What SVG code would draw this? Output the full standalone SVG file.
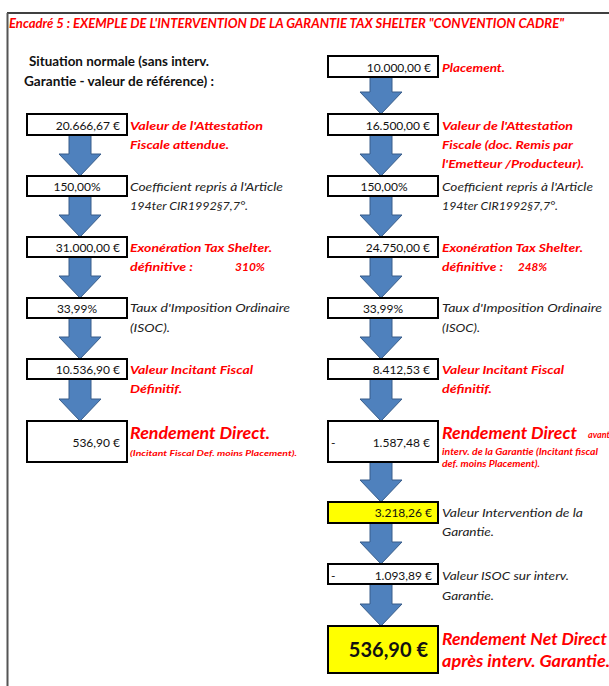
<svg xmlns="http://www.w3.org/2000/svg" width="609" height="686" viewBox="0 0 609 686">
<style>
text{font-family:Lato,"Liberation Sans",sans-serif;font-size:12px;fill:#111}
.red{fill:#FF0000;font-weight:bold;font-style:italic}
.it{font-style:italic;fill:#222}
.v{text-anchor:end}
.c{text-anchor:middle}
.box{fill:#fff;stroke:#000;stroke-width:2}
.yel{fill:#FFFF00;stroke:#000;stroke-width:2}
.big{font-size:17px}
.sm{font-size:8px}
.hd{font-weight:bold;font-size:12.5px}
.arr{fill:#4F81BD;stroke:#385D8A;stroke-width:1}
</style>
<rect x="0" y="0" width="609" height="686" fill="#fff"/>
<line x1="7" y1="13" x2="609" y2="13" stroke="#000" stroke-width="1.5"/>
<line x1="7.5" y1="13" x2="7.5" y2="686" stroke="#555" stroke-width="2"/>
<text x="9" y="28" class="red" style="font-size:13.5px" textLength="555" lengthAdjust="spacingAndGlyphs">Encadré 5 : EXEMPLE DE L'INTERVENTION DE LA GARANTIE TAX SHELTER "CONVENTION CADRE"</text>
<text x="29" y="66" class="hd" textLength="180" lengthAdjust="spacingAndGlyphs">Situation normale (sans interv.</text>
<text x="24" y="86" class="hd" textLength="190" lengthAdjust="spacingAndGlyphs">Garantie - valeur de référence) :</text>
<g id="connectors">
<path class="arr" d="M69,135H91V154H101L80,176L59,154H69Z"/>
<path class="arr" d="M69,196H91V215H101L80,237L59,215H69Z"/>
<path class="arr" d="M69,257H91V276H101L80,298L59,276H69Z"/>
<path class="arr" d="M69,318H91V337H101L80,359L59,337H69Z"/>
<path class="arr" d="M69,379H91V399H101L80,421L59,399H69Z"/>
<path class="arr" d="M370,77H392V92H402L381,114L360,92H370Z"/>
<path class="arr" d="M370,135H392V154H402L381,176L360,154H370Z"/>
<path class="arr" d="M370,196H392V215H402L381,237L360,215H370Z"/>
<path class="arr" d="M370,257H392V276H402L381,298L360,276H370Z"/>
<path class="arr" d="M370,318H392V337H402L381,359L360,337H370Z"/>
<path class="arr" d="M370,379H392V399H402L381,421L360,399H370Z"/>
<path class="arr" d="M370,462H392V480H402L381,502L360,480H370Z"/>
<path class="arr" d="M370,523H392V542H402L381,564L360,542H370Z"/>
<path class="arr" d="M370,584H392V604H402L381,626L360,604H370Z"/>
</g>
<g id="l1"><rect class="box" x="27" y="114" width="100" height="21"/><text x="120" y="130" class="v">20.666,67 €</text>
<text x="130" y="130" class="red" textLength="133" lengthAdjust="spacingAndGlyphs">Valeur de l'Attestation</text>
<text x="130" y="149" class="red" textLength="99" lengthAdjust="spacingAndGlyphs">Fiscale attendue.</text></g>
<g id="l2"><rect class="box" x="27" y="176" width="100" height="20"/><text x="77" y="191" class="c">150,00%</text>
<text x="130" y="191" class="it" textLength="153" lengthAdjust="spacingAndGlyphs">Coefficient repris à l'Article</text>
<text x="130" y="210" class="it" textLength="118" lengthAdjust="spacingAndGlyphs">194ter CIR1992§7,7°.</text></g>
<g id="l3"><rect class="box" x="27" y="237" width="100" height="20"/><text x="120" y="252" class="v">31.000,00 €</text>
<text x="130" y="252" class="red" textLength="142" lengthAdjust="spacingAndGlyphs">Exonération Tax Shelter.</text>
<text x="130" y="271" class="red" textLength="63" lengthAdjust="spacingAndGlyphs">définitive :</text>
<text x="235" y="271" class="red" textLength="30" lengthAdjust="spacingAndGlyphs">310%</text></g>
<g id="l4"><rect class="box" x="27" y="298" width="100" height="20"/><text x="77" y="313" class="c">33,99%</text>
<text x="130" y="312" class="it" textLength="160" lengthAdjust="spacingAndGlyphs">Taux d'Imposition Ordinaire</text>
<text x="130" y="332" class="it" textLength="40" lengthAdjust="spacingAndGlyphs">(ISOC).</text></g>
<g id="l5"><rect class="box" x="27" y="359" width="100" height="20"/><text x="120" y="374" class="v">10.536,90 €</text>
<text x="130" y="374" class="red" textLength="123" lengthAdjust="spacingAndGlyphs">Valeur Incitant Fiscal</text>
<text x="130" y="393" class="red" textLength="52" lengthAdjust="spacingAndGlyphs">Définitif.</text></g>
<g id="l6"><rect class="box" x="27" y="421" width="100" height="41"/><text x="120" y="447" class="v">536,90 €</text>
<text x="130" y="439" class="red big" textLength="140" lengthAdjust="spacingAndGlyphs">Rendement Direct.</text>
<text x="130" y="456" class="red sm" textLength="167" lengthAdjust="spacingAndGlyphs">(Incitant Fiscal Def. moins Placement).</text></g>
<g id="r0"><rect class="box" x="328" y="56" width="110" height="21"/><text x="431" y="72" class="v">10.000,00 €</text>
<text x="442" y="72" class="red" textLength="63" lengthAdjust="spacingAndGlyphs">Placement.</text></g>
<g id="r1"><rect class="box" x="328" y="114" width="110" height="21"/><text x="430" y="130" class="v">16.500,00 €</text>
<text x="442" y="130" class="red" textLength="131" lengthAdjust="spacingAndGlyphs">Valeur de l'Attestation</text>
<text x="442" y="149" class="red" textLength="131" lengthAdjust="spacingAndGlyphs">Fiscale (doc. Remis par</text>
<text x="442" y="168" class="red" textLength="142" lengthAdjust="spacingAndGlyphs">l'Emetteur /Producteur).</text></g>
<g id="r2"><rect class="box" x="328" y="176" width="110" height="20"/><text x="384" y="191" class="c">150,00%</text>
<text x="442" y="191" class="it" textLength="151" lengthAdjust="spacingAndGlyphs">Coefficient repris à l'Article</text>
<text x="442" y="210" class="it" textLength="116" lengthAdjust="spacingAndGlyphs">194ter CIR1992§7,7°.</text></g>
<g id="r3"><rect class="box" x="328" y="237" width="110" height="20"/><text x="430" y="252" class="v">24.750,00 €</text>
<text x="442" y="252" class="red" textLength="141" lengthAdjust="spacingAndGlyphs">Exonération Tax Shelter.</text>
<text x="442" y="271" class="red" textLength="61" lengthAdjust="spacingAndGlyphs">définitive :</text>
<text x="518" y="271" class="red" textLength="29" lengthAdjust="spacingAndGlyphs">248%</text></g>
<g id="r4"><rect class="box" x="328" y="298" width="110" height="20"/><text x="383" y="313" class="c">33,99%</text>
<text x="442" y="312" class="it" textLength="160" lengthAdjust="spacingAndGlyphs">Taux d'Imposition Ordinaire</text>
<text x="442" y="332" class="it" textLength="38" lengthAdjust="spacingAndGlyphs">(ISOC).</text></g>
<g id="r5"><rect class="box" x="328" y="359" width="110" height="20"/><text x="430" y="374" class="v">8.412,53 €</text>
<text x="442" y="374" class="red" textLength="122" lengthAdjust="spacingAndGlyphs">Valeur Incitant Fiscal</text>
<text x="442" y="393" class="red" textLength="50" lengthAdjust="spacingAndGlyphs">définitif.</text></g>
<g id="r6"><rect class="box" x="328" y="421" width="110" height="41"/><text x="331" y="447">-</text><text x="430" y="447" class="v">1.587,48 €</text>
<text x="442" y="439" class="red big" textLength="135" lengthAdjust="spacingAndGlyphs">Rendement Direct</text>
<text x="588" y="438" class="red" style="font-size:9px">avant</text>
<text x="442" y="455" class="red sm" style="font-size:8.5px" textLength="156" lengthAdjust="spacingAndGlyphs">interv. de la Garantie (Incitant fiscal</text>
<text x="442" y="467" class="red sm" style="font-size:8.5px" textLength="98" lengthAdjust="spacingAndGlyphs">def. moins Placement).</text></g>
<g id="r7"><rect class="yel" x="328" y="502" width="110" height="21"/><text x="432" y="517" class="v">3.218,26 €</text>
<text x="442" y="517" class="it" textLength="141" lengthAdjust="spacingAndGlyphs">Valeur Intervention de la</text>
<text x="442" y="536" class="it" textLength="52" lengthAdjust="spacingAndGlyphs">Garantie.</text></g>
<g id="r8"><rect class="box" x="328" y="564" width="110" height="20"/><text x="331" y="580">-</text><text x="432" y="580" class="v">1.093,89 €</text>
<text x="442" y="580" class="it" textLength="127" lengthAdjust="spacingAndGlyphs">Valeur ISOC sur interv.</text>
<text x="442" y="600" class="it" textLength="52" lengthAdjust="spacingAndGlyphs">Garantie.</text></g>
<g id="r9"><rect class="yel" x="328" y="626" width="110" height="47"/><text x="428" y="657" class="v" style="font-size:20px;font-weight:bold">536,90 €</text>
<text x="442" y="645" class="red big" textLength="165" lengthAdjust="spacingAndGlyphs">Rendement Net Direct</text>
<text x="442" y="667" class="red big" textLength="168" lengthAdjust="spacingAndGlyphs">après interv. Garantie.</text></g>
</svg>
